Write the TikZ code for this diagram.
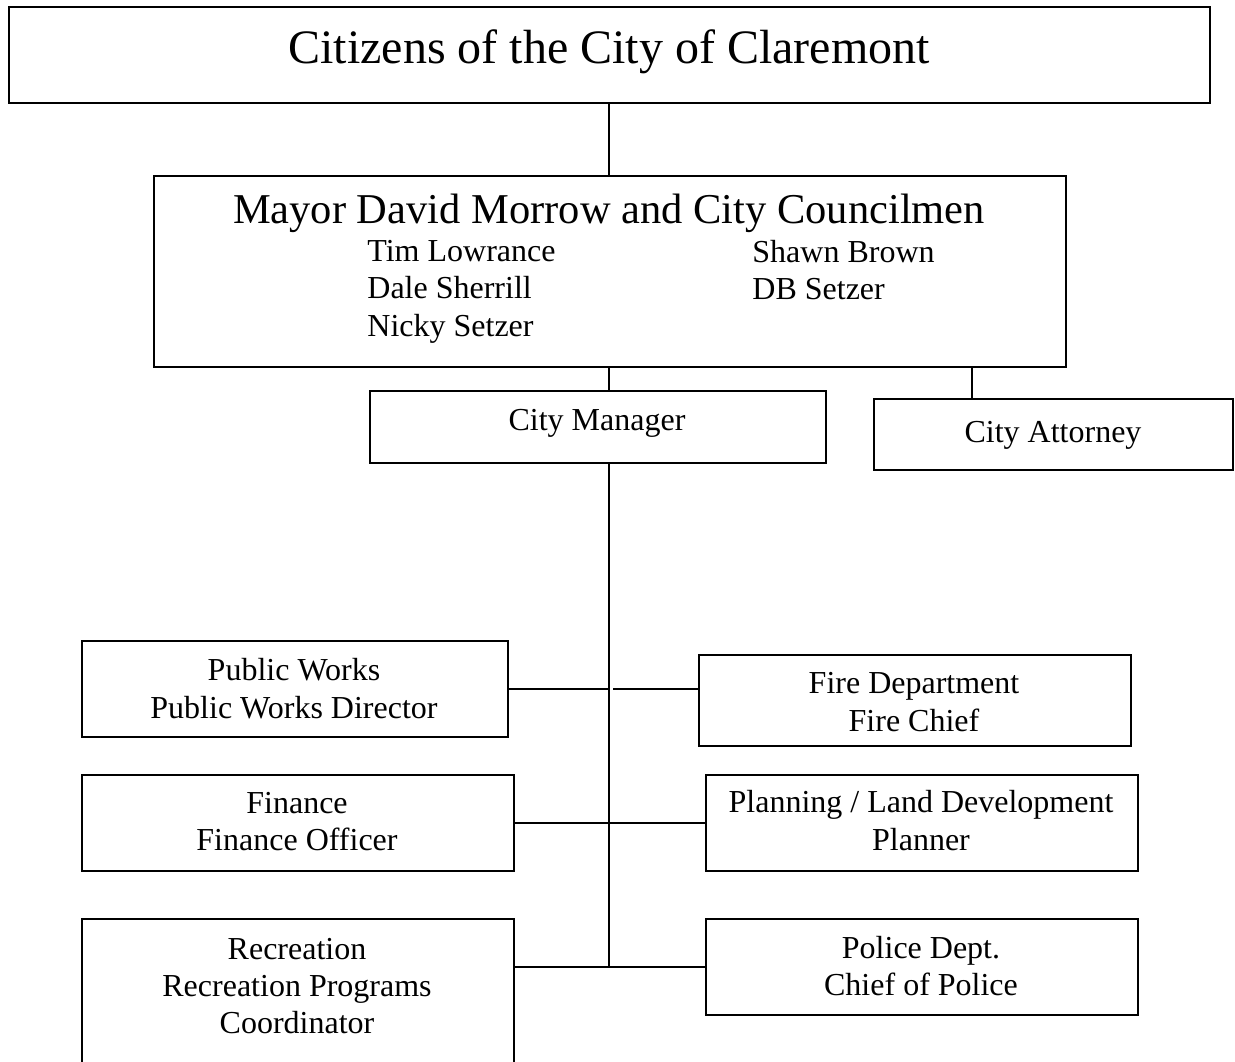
\documentclass[tikz,border=0pt]{standalone}
\usepackage{fontspec}
\setmainfont{Liberation Serif}
\begin{document}
\begin{tikzpicture}[x=0.5pt,y=-0.5pt,
  orgbox/.style={draw=black,line width=1.1pt,rectangle,inner sep=0pt,anchor=north west},
  link/.style={draw=black,line width=1.1pt},
  titletext/.style={inner sep=0pt,anchor=base,font=\fontsize{24}{28}\selectfont},
  headtext/.style={inner sep=0pt,anchor=base,font=\fontsize{21.25}{25}\selectfont},
  bodytext/.style={inner sep=0pt,anchor=base,font=\fontsize{16}{18.5}\selectfont},
  nametext/.style={bodytext,anchor=base west}]
\clip (0,0) rectangle (1235,1061);

% boxes
\node[orgbox,minimum width=600.5pt,minimum height=48pt] (citizens) at (8,6) {};
\node[orgbox,minimum width=456pt,minimum height=95.5pt] (council) at (153,175) {};
\node[orgbox,minimum width=228pt,minimum height=36pt] (manager) at (369,390) {};
\node[orgbox,minimum width=179.5pt,minimum height=35.5pt] (attorney) at (873,398) {};
\node[orgbox,minimum width=213pt,minimum height=48pt] (works) at (81,640) {};
\node[orgbox,minimum width=216pt,minimum height=45.5pt] (fire) at (698,654) {};
\node[orgbox,minimum width=216pt,minimum height=48pt] (finance) at (81,774) {};
\node[orgbox,minimum width=216pt,minimum height=48pt] (planning) at (705,774) {};
\node[orgbox,minimum width=216pt,minimum height=100pt] (recreation) at (81,918) {};
\node[orgbox,minimum width=216pt,minimum height=48pt] (police) at (705,918) {};

% texts
\node[titletext] (tCitizens) at (609,63) {Citizens of the City of Claremont};
\node[headtext] (tCouncil) at (609,223) {Mayor David Morrow and City Councilmen};
\node[nametext] (nTim) at (367,261) {Tim Lowrance};
\node[nametext] (nDale) at (367,298) {Dale Sherrill};
\node[nametext] (nNicky) at (367,336) {Nicky Setzer};
\node[nametext] (nShawn) at (752,262) {Shawn Brown};
\node[nametext] (nDB) at (752,299) {DB Setzer};
\node[bodytext] (tManager) at (597,430) {City Manager};
\node[bodytext] (tAttorney) at (1053,442) {City Attorney};
\node[bodytext] (tWorksA) at (294,680) {Public Works};
\node[bodytext] (tWorksB) at (294,718) {Public Works Director};
\node[bodytext] (tFireA) at (914,693) {Fire Department};
\node[bodytext] (tFireB) at (914,731) {Fire Chief};
\node[bodytext] (tFinA) at (297,813) {Finance};
\node[bodytext] (tFinB) at (297,850) {Finance Officer};
\node[bodytext] (tPlanA) at (921,812) {Planning / Land Development};
\node[bodytext] (tPlanB) at (921,850) {Planner};
\node[bodytext] (tRecA) at (297,959) {Recreation};
\node[bodytext] (tRecB) at (297,996) {Recreation Programs};
\node[bodytext] (tRecC) at (297,1033) {Coordinator};
\node[bodytext] (tPolA) at (921,958) {Police Dept.};
\node[bodytext] (tPolB) at (921,995) {Chief of Police};

% connectors
\coordinate (trunk) at (609,0);
\coordinate (attyTap) at (972,0);
\draw[link] (citizens.south -| trunk) -- (council.north -| trunk);
\draw[link] (council.south -| trunk) -- (manager.north -| trunk);
\draw[link] (council.south -| attyTap) -- (attorney.north -| attyTap);
\draw[link] (manager.south -| trunk) -- (police.west -| trunk);
\draw[link] (works.east) -- (works.east -| trunk);
\draw[link] ([xshift=2]works.east -| trunk) -- (works.east -| fire.west);
\draw[link] (finance.east) -- (planning.west);
\draw[link] (police.west -| recreation.east) -- (police.west);
\end{tikzpicture}
\end{document}
